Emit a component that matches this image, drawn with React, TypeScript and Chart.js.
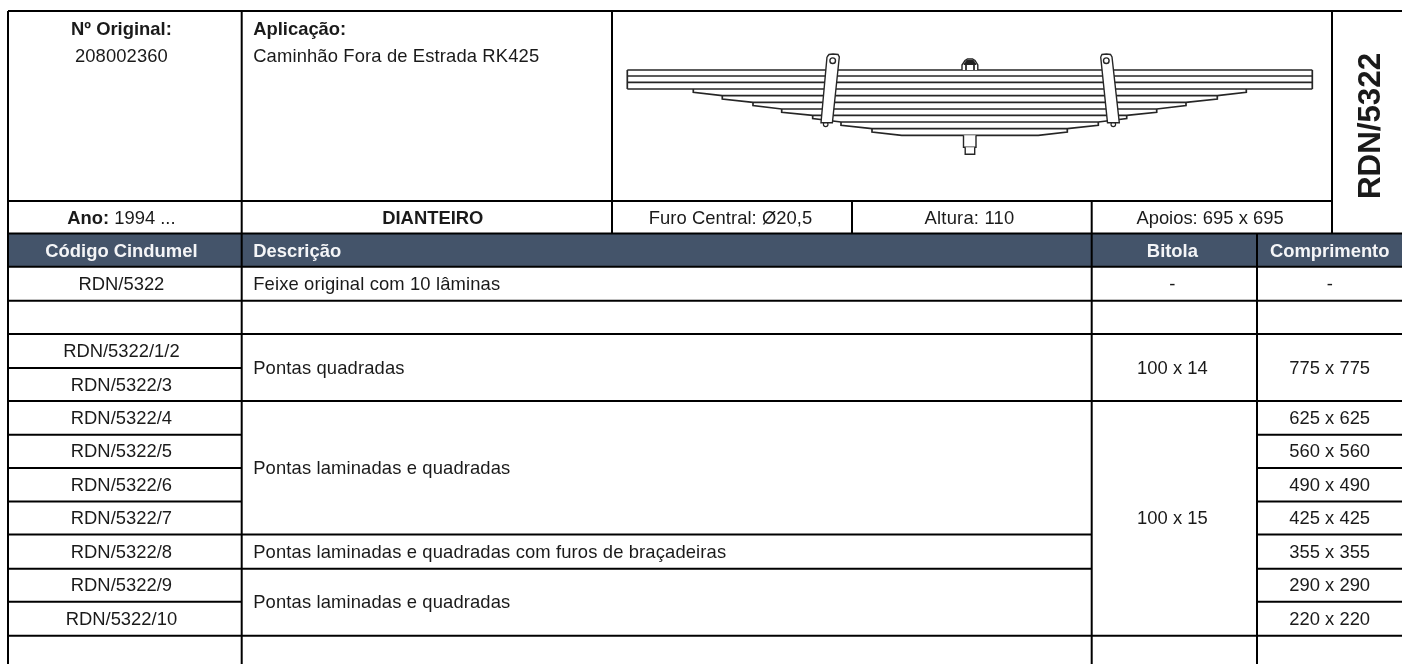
import React, { useEffect, useRef } from "react";
import { Chart, registerables } from "chart.js";

Chart.register(...registerables);

type Pt = { x: number; y: number };
type Seg = [number, number, number, number];

// ---------- table geometry (in sheet units) ----------
const X = { left: 8, code: 241.7, photo: 612, furo: 852, desc: 1091.7, bitola: 1257, tag: 1332, right: 1402 };
const Y = { top: 11, photoEnd: 201, infoEnd: 233.5, headEnd: 266.7, bottom: 664 };
const rowEdges = [266.7, 300.7, 334, 368, 401, 434.7, 468, 501.5, 534.5, 568.7, 601.7, 635.7];
const textCentres = { code: 121.4, type: 432.8, furo: 730.5, altura: 969.5, apoios: 1210, gauge: 1172.4, length: 1329.7 };

// ---------- table content ----------
const columnHeaders = ["Código Cindumel", "Descrição", "Bitola", "Comprimento"];
const partCodes = ["RDN/5322", "", "RDN/5322/1/2", "RDN/5322/3", "RDN/5322/4", "RDN/5322/5", "RDN/5322/6", "RDN/5322/7", "RDN/5322/8", "RDN/5322/9", "RDN/5322/10"];
const descriptions: [string, number, number][] = [
  ["Feixe original com 10 lâminas", 0, 1],
  ["Pontas quadradas", 2, 4],
  ["Pontas laminadas e quadradas", 4, 8],
  ["Pontas laminadas e quadradas com furos de braçadeiras", 8, 9],
  ["Pontas laminadas e quadradas", 9, 11],
];
const gauges: [string, number, number][] = [
  ["-", 0, 1],
  ["100 x 14", 2, 4],
  ["100 x 15", 4, 11],
];
const lengths: [string, number, number][] = [
  ["-", 0, 1],
  ["775 x 775", 2, 4],
  ["625 x 625", 4, 5],
  ["560 x 560", 5, 6],
  ["490 x 490", 6, 7],
  ["425 x 425", 7, 8],
  ["355 x 355", 8, 9],
  ["290 x 290", 9, 10],
  ["220 x 220", 10, 11],
];

// ---------- rules: which row edge crosses which column ----------
const ruleSpans: [number, number, number][] = [
  [0, X.left, X.right],
  [1, X.left, X.right],
  [2, X.left, X.right],
  [3, X.left, X.code],
  [4, X.left, X.right],
  [5, X.left, X.code],
  [5, X.bitola, X.right],
  [6, X.left, X.code],
  [6, X.bitola, X.right],
  [7, X.left, X.code],
  [7, X.bitola, X.right],
  [8, X.left, X.desc],
  [8, X.bitola, X.right],
  [9, X.left, X.desc],
  [9, X.bitola, X.right],
  [10, X.left, X.code],
  [10, X.bitola, X.right],
  [11, X.left, X.right],
];
const frameRules: Seg[] = [
  [X.left, Y.top, X.right, Y.top],
  [X.left, Y.photoEnd, X.tag, Y.photoEnd],
  [X.left, Y.infoEnd, X.right, Y.infoEnd],
  [X.left, Y.top, X.left, Y.bottom],
  [X.code, Y.top, X.code, Y.bottom],
  [X.photo, Y.top, X.photo, Y.infoEnd],
  [X.furo, Y.photoEnd, X.furo, Y.infoEnd],
  [X.desc, Y.photoEnd, X.desc, Y.bottom],
  [X.tag, Y.top, X.tag, Y.infoEnd],
  [X.bitola, Y.infoEnd, X.bitola, Y.bottom],
];

// ---------- leaf spring drawing ----------
const fullLeafLevels = [70, 76, 82.3, 89];
const leafLevels = [95.7, 102.3, 109, 115.3, 122, 128.7, 135.3];
const leafLeftTips = [693.3, 722.3, 753, 781.7, 812.7, 841, 872];
const leafRightTips = [1246.3, 1217.3, 1186, 1156.7, 1126.7, 1098.3, 1067.3];
const lastLeafEnds = [901.7, 1038.3];
const springEnds = [627.3, 1312.3];
const hangerLeft: Pt[] = [
  { x: 827, y: 57 }, { x: 829, y: 54.5 }, { x: 833, y: 54 }, { x: 838, y: 54.5 }, { x: 839.3, y: 57 },
  { x: 832.4, y: 122.7 }, { x: 821, y: 122.7 }, { x: 827, y: 57 },
];
const hangerRight: Pt[] = [
  { x: 1100.7, y: 57 }, { x: 1102, y: 54.5 }, { x: 1106.5, y: 54 }, { x: 1110.5, y: 54.5 }, { x: 1112, y: 57 },
  { x: 1119.3, y: 122.7 }, { x: 1107.5, y: 122.7 }, { x: 1100.7, y: 57 },
];
const hangerPins: Pt[] = [{ x: 832.7, y: 60.7 }, { x: 1106.3, y: 60.7 }];
const hangerNubs: Pt[] = [{ x: 825.7, y: 124.3 }, { x: 1113.3, y: 124.3 }];
const nutOutline: Pt[] = [
  { x: 962, y: 70 }, { x: 962, y: 65 }, { x: 965, y: 60.5 }, { x: 967.5, y: 59 }, { x: 972.5, y: 59 },
  { x: 975, y: 60.5 }, { x: 977.8, y: 65 }, { x: 977.8, y: 70 },
];
const nutCap: Pt[] = [
  { x: 964, y: 64.5 }, { x: 966.5, y: 60.5 }, { x: 973.5, y: 60.5 }, { x: 976, y: 64.5 }, { x: 964, y: 64.5 },
];
const nutDetail: Seg[] = [[966, 65, 966, 70], [974, 65, 974, 70]];
const boltShank: Pt[] = [{ x: 963.5, y: 135.3 }, { x: 963.5, y: 147.3 }, { x: 976, y: 147.3 }, { x: 976, y: 135.3 }];
const boltEnd: Pt[] = [{ x: 965.2, y: 147.3 }, { x: 965.2, y: 154.3 }, { x: 974.7, y: 154.3 }, { x: 974.7, y: 147.3 }];

const FONT = '"Liberation Sans", Arial, sans-serif';
const SIZE = 18.4;
const INK = "#1a1a1a";
const HEAD = "#44546a";
const HEAD_TEXT = "#f4f5f7";
const RULE = "#000000";
const DRAW = "#262626";
const RULE_W = 2;
const LEAF_W = 1.7;

function line(data: Pt[], color: string, width: number, extra: any = {}) {
  return {
    data, showLine: true, borderColor: color, borderWidth: width, pointRadius: 0,
    tension: 0, fill: false, borderCapStyle: "butt", borderJoinStyle: "miter", ...extra,
  };
}
const seg = (s: Seg): Pt[] => [{ x: s[0], y: s[1] }, { x: s[2], y: s[3] }];

function buildDatasets() {
  const d: any[] = [];
  // header band
  d.push(line(
    [{ x: X.left, y: Y.infoEnd }, { x: X.right, y: Y.infoEnd }, { x: X.right, y: Y.headEnd }, { x: X.left, y: Y.headEnd }, { x: X.left, y: Y.infoEnd }],
    HEAD, 0, { fill: "shape", backgroundColor: HEAD },
  ));
  frameRules.forEach((s) => d.push(line(seg(s), RULE, RULE_W)));
  ruleSpans.forEach(([r, a, b]) => d.push(line(seg([a, rowEdges[r], b, rowEdges[r]]), RULE, RULE_W)));

  // full-length leaves
  fullLeafLevels.forEach((y) => d.push(line(seg([springEnds[0], y, springEnds[1], y]), DRAW, LEAF_W)));
  d.push(line(seg([springEnds[0], fullLeafLevels[0], springEnds[0], fullLeafLevels[3]]), DRAW, LEAF_W));
  d.push(line(seg([springEnds[1], fullLeafLevels[0], springEnds[1], fullLeafLevels[3]]), DRAW, LEAF_W));
  // tapered leaves
  const prev = [fullLeafLevels[3], ...leafLevels];
  leafLevels.forEach((y, i) => {
    const top = prev[i];
    const nextL = i < leafLevels.length - 1 ? leafLeftTips[i + 1] : lastLeafEnds[0];
    const nextR = i < leafLevels.length - 1 ? leafRightTips[i + 1] : lastLeafEnds[1];
    d.push(line([{ x: leafLeftTips[i], y: top }, { x: leafLeftTips[i], y: top + 3.3 }, { x: nextL, y }, { x: nextR, y }, { x: leafRightTips[i], y: top + 3.3 }, { x: leafRightTips[i], y: top }], DRAW, LEAF_W));
  });
  // bolt
  d.push(line(boltShank, DRAW, 1.4, { fill: "shape", backgroundColor: "#fff" }));
  d.push(line(boltEnd, DRAW, 1.4, { fill: "shape", backgroundColor: "#fff" }));
  d.push(line(nutOutline, DRAW, 1.4, { fill: "shape", backgroundColor: "#fff" }));
  d.push(line(nutCap, DRAW, 1, { fill: "shape", backgroundColor: "#222" }));
  nutDetail.forEach((s) => d.push(line(seg(s), DRAW, 1)));
  // hangers
  d.push({ data: hangerNubs, showLine: false, pointRadius: 2.3, pointBackgroundColor: "#fff", pointBorderColor: DRAW, pointBorderWidth: 1.2 });
  d.push(line(hangerLeft, DRAW, 1.4, { fill: "shape", backgroundColor: "#fff" }));
  d.push(line(hangerRight, DRAW, 1.4, { fill: "shape", backgroundColor: "#fff" }));
  d.push({ data: hangerPins, showLine: false, pointRadius: 2.8, pointBackgroundColor: "#fff", pointBorderColor: DRAW, pointBorderWidth: 1.4 });
  // Chart.js paints the first dataset last: reverse so the list reads in paint order
  return d.reverse();
}

const tablePlugin = {
  id: "tableText",
  afterDatasetsDraw(chart: any) {
    const { ctx, scales } = chart;
    const px = (v: number) => scales.x.getPixelForValue(v);
    const py = (v: number) => scales.y.getPixelForValue(v);
    const rowMid = (a: number, b: number) => (rowEdges[a] + rowEdges[b]) / 2;
    ctx.save();
    ctx.textBaseline = "middle";
    const text = (s: string, x: number, y: number, align: CanvasTextAlign, bold = false, color = INK, spacing = "0px") => {
      ctx.font = `${bold ? "bold " : ""}${SIZE}px ${FONT}`;
      ctx.letterSpacing = spacing;
      ctx.fillStyle = color;
      ctx.textAlign = align;
      ctx.fillText(s, px(x), py(y));
      ctx.letterSpacing = "0px";
    };
    const pair = (b: string, n: string, cx: number, y: number) => {
      ctx.font = `bold ${SIZE}px ${FONT}`;
      const wb = ctx.measureText(b).width;
      ctx.font = `${SIZE}px ${FONT}`;
      const wn = ctx.measureText(n).width;
      const start = px(cx) - (wb + wn) / 2;
      ctx.textAlign = "left";
      ctx.fillStyle = INK;
      ctx.font = `bold ${SIZE}px ${FONT}`;
      ctx.fillText(b, start, py(y));
      ctx.font = `${SIZE}px ${FONT}`;
      ctx.fillText(n, start + wb, py(y));
    };
    const mid = (a: number, b: number) => (a + b) / 2;
    const descX = X.code + 11.5;
    const wide = "0.13px";
    const c = textCentres;

    text("Nº Original:", c.code, 29.5, "center", true);
    text("208002360", c.code, 56.5, "center", false, INK, "0.1px");
    text("Aplicação:", descX, 29.5, "left", true);
    text("Caminhão Fora de Estrada RK425", descX, 56.5, "left", false, INK, wide);

    const infoY = mid(Y.photoEnd, Y.infoEnd) + 1.5;
    pair("Ano: ", "1994 ...", c.code, infoY);
    text("DIANTEIRO", c.type, infoY, "center", true);
    text("Furo Central: Ø20,5", c.furo, infoY, "center", false, INK, "0.05px");
    text("Altura: 110", c.altura, infoY, "center", false, INK, "0.2px");
    text("Apoios: 695 x 695", c.apoios, infoY, "center");

    const headY = mid(Y.infoEnd, Y.headEnd) + 2;
    text(columnHeaders[0], c.code, headY, "center", true, HEAD_TEXT);
    text(columnHeaders[1], descX, headY, "left", true, HEAD_TEXT);
    text(columnHeaders[2], c.gauge, headY, "center", true, HEAD_TEXT);
    text(columnHeaders[3], c.length, headY, "center", true, HEAD_TEXT);

    partCodes.forEach((s, i) => s && text(s, c.code, rowMid(i, i + 1) + 1, "center"));
    descriptions.forEach(([s, a, b]) => text(s, descX, rowMid(a, b) + 1, "left", false, INK, wide));
    gauges.forEach(([s, a, b]) => text(s, c.gauge, rowMid(a, b) + 1, "center"));
    lengths.forEach(([s, a, b]) => text(s, c.length, rowMid(a, b) + 1, "center"));

    ctx.translate(px(1370), py(126));
    ctx.rotate(-Math.PI / 2);
    ctx.font = `bold 31.3px ${FONT}`;
    ctx.fillStyle = INK;
    ctx.textAlign = "center";
    ctx.fillText("RDN/5322", 0, 1);
    ctx.restore();
  },
};

export default function App() {
  const ref = useRef<HTMLCanvasElement>(null);
  useEffect(() => {
    document.body.style.margin = "0";
    const chart = new Chart(ref.current as HTMLCanvasElement, {
      type: "scatter",
      data: { datasets: buildDatasets() },
      options: {
        animation: false,
        responsive: false,
        devicePixelRatio: 1,
        layout: { padding: 0, autoPadding: false },
        plugins: { legend: { display: false }, tooltip: { enabled: false }, title: { display: false } },
        scales: {
          x: { type: "linear", min: 0, max: 1402, display: false },
          y: { type: "linear", min: 0, max: 664, reverse: true, display: false },
        },
      },
      plugins: [tablePlugin],
    } as any);
    return () => chart.destroy();
  }, []);
  return <canvas ref={ref} width={1402} height={664} style={{ display: "block", position: "fixed", left: 0, top: 0, background: "#fff" }} />;
}
